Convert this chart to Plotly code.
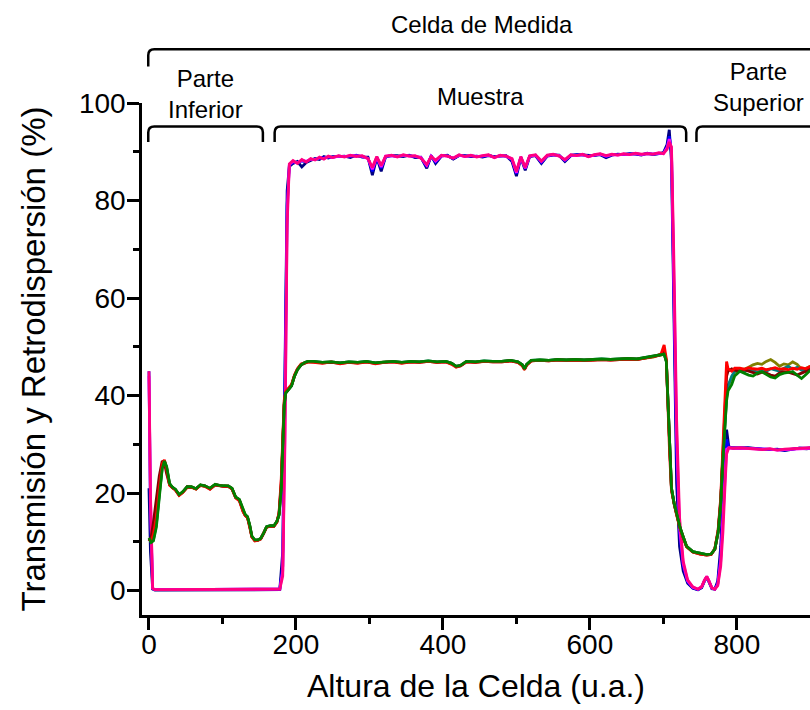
import plotly.graph_objects as go

# ---------------- data ----------------
T_X = [0, 2, 5, 8, 20, 60, 100, 140, 178, 182, 185, 188, 191,
       196, 202, 208, 214, 220, 226, 232, 238, 244, 250,
       258, 266, 274, 282, 290, 298,
       304, 310, 316, 322,
       330, 338, 346, 354, 362, 370, 378,
       384, 390,
       398, 406, 414, 422, 430, 438, 446, 454, 462, 470, 478, 486, 494,
       500, 506, 512, 518,
       526, 534, 542, 550, 558, 566, 574, 582, 590, 598, 606, 614, 622, 630, 638, 646, 654, 662, 670, 678, 686, 694,
       700, 705, 708,
       711, 714, 718, 722, 727, 733, 740, 747, 752, 756, 759, 762, 766, 770, 774, 778, 781, 784, 786, 789,
       795, 805, 815, 825, 835, 845, 855, 865, 875, 885, 895, 900]

T_NAVY = [21, 8, 0.3, 0.1, 0.1, 0.1, 0.1, 0.1, 0.2, 8, 45, 82, 87.0,
          87.6, 88.0, 86.9, 87.8, 88.2, 88.6, 88.4, 89.0, 88.7, 89.0,
          89.0, 89.1, 88.8, 89.3, 88.9, 88.9,
          85.2, 88.8, 86.0, 89.0,
          89.2, 89.2, 89.0, 89.3, 88.8, 88.9, 86.6,
          89.2, 87.6,
          89.1, 89.3, 88.5, 89.2, 89.2, 89.0, 89.1, 88.9, 89.2, 89.0, 89.1, 89.2, 88.0,
          85.0, 88.8, 86.2, 89.0,
          89.2, 87.6, 89.1, 89.3, 89.3, 88.0, 89.2, 89.4, 89.3, 89.2, 89.2, 89.4, 88.8, 89.3, 89.5, 89.4, 89.6, 89.5, 89.3, 89.7, 89.4, 89.6,
          89.8, 91.5, 94.5,
          88, 55, 22, 9, 4, 1.5, 0.5, 0.2, 0.6, 2.0, 2.8, 1.8, 0.4, 0.3, 2.0, 9, 20, 30, 33, 29.5,
          29.3, 29.2, 29.3, 29.1, 29.0, 28.9, 29.0, 28.7, 29.0, 29.2, 29.1, 29.2]

T_BLUE = [45, 16, 0.4, 0.2, 0.2, 0.2, 0.2, 0.2, 0.3, 5, 38, 79, 87.2,
          87.9, 87.8, 88.1, 88.0, 88.4, 88.5, 88.7, 88.8, 88.9, 88.9,
          89.1, 89.0, 89.1, 89.2, 89.0, 88.7,
          86.0, 88.9, 86.6, 89.0,
          89.2, 89.0, 89.2, 89.2, 89.0, 88.8, 87.0,
          89.1, 87.9,
          89.2, 89.2, 88.6, 89.3, 89.1, 89.2, 89.0, 89.0, 89.3, 88.9, 89.2, 89.1, 88.3,
          85.5, 88.9, 86.5, 89.1,
          89.3, 87.8, 89.2, 89.4, 89.2, 88.2, 89.3, 89.3, 89.4, 89.1, 89.3, 89.5, 89.0, 89.4, 89.4, 89.5, 89.5, 89.6, 89.4, 89.6, 89.5, 89.7,
          89.7, 91.0, 93.2,
          90, 62, 28, 12, 5, 1.8, 0.6, 0.2, 0.7, 2.1, 2.8, 1.9, 0.5, 0.3, 1.5, 7, 16, 26, 31, 29.4,
          29.2, 29.3, 29.2, 29.1, 29.0, 29.0, 28.9, 28.8, 29.0, 29.2, 29.2, 29.3]

T_MAGENTA = [44, 19, 0.5, 0.2, 0.2, 0.2, 0.2, 0.2, 0.3, 4, 33, 77, 87.4,
             88.0, 87.7, 88.3, 88.0, 88.5, 88.4, 88.8, 88.6, 89.0, 88.8,
             89.1, 89.0, 89.2, 89.1, 89.1, 88.6,
             86.4, 88.9, 86.9, 89.1,
             89.2, 89.0, 89.3, 89.1, 89.1, 88.8, 87.2,
             89.1, 88.1,
             89.2, 89.1, 88.7, 89.3, 89.0, 89.2, 89.0, 89.1, 89.3, 88.8, 89.2, 89.1, 88.5,
             85.7, 88.9, 86.6, 89.1,
             89.3, 88.0, 89.2, 89.4, 89.2, 88.3, 89.3, 89.2, 89.4, 89.0, 89.3, 89.5, 89.1, 89.4, 89.3, 89.5, 89.4, 89.6, 89.4, 89.6, 89.5, 89.7,
             89.6, 90.8, 92.6,
             90.5, 66, 32, 13, 5.5, 2.0, 0.7, 0.3, 0.8, 2.1, 2.9, 2.0, 0.5, 0.3, 1.2, 6, 14, 24, 29, 29.3,
             29.2, 29.2, 29.1, 29.1, 29.0, 29.0, 28.8, 28.9, 29.0, 29.1, 29.2, 29.2]

T_PINK = [45, 20, 0.5, 0.2, 0.2, 0.2, 0.2, 0.2, 0.3, 3, 30, 75, 87.5,
          88.2, 87.6, 88.4, 87.9, 88.6, 88.3, 88.9, 88.5, 89.1, 88.8,
          89.2, 88.9, 89.3, 89.0, 89.2, 88.6,
          86.8, 89.0, 87.2, 89.1,
          89.3, 88.9, 89.4, 89.1, 89.2, 88.7, 87.4,
          89.0, 88.3,
          89.3, 89.1, 88.7, 89.4, 89.0, 89.3, 88.9, 89.2, 89.4, 88.8, 89.3, 89.1, 88.6,
          86.0, 89.0, 86.8, 89.2,
          89.4, 88.1, 89.3, 89.5, 89.1, 88.4, 89.4, 89.2, 89.5, 89.0, 89.4, 89.6, 89.2, 89.5, 89.3, 89.6, 89.4, 89.7, 89.5, 89.6, 89.5, 89.8,
          89.6, 90.5, 92.0,
          91.0, 70, 35, 15, 6, 2.2, 0.8, 0.3, 0.8, 2.2, 2.9, 2.0, 0.6, 0.3, 1.0, 5, 12, 22, 28, 29.3,
          29.2, 29.3, 29.2, 29.0, 28.9, 29.1, 28.8, 29.0, 29.1, 29.2, 29.2, 29.3]

B_X = [0, 3, 6, 10, 14, 18, 21, 24, 28, 32, 36, 41, 46, 52, 58, 64, 70, 76, 83, 90,
       96, 102, 108, 113, 118, 123, 128, 131, 134, 137, 140, 144, 148, 152, 156, 160, 165, 170, 174, 177,
       180, 182, 184, 186, 190, 194, 198, 202, 207, 212, 216,
       224, 236, 248, 260, 272, 284, 296, 308, 320, 332, 344, 356, 368, 380, 392, 404,
       412, 418, 424,
       432, 444, 456, 468, 480, 492,
       502, 508, 511, 514, 520,
       532, 544, 556, 568, 580, 592, 604, 616, 628, 640, 652, 664, 676,
       686, 692, 697,
       701, 704, 706, 708.5, 711, 714.5, 718, 722.5, 727, 731.5,
       740, 750, 759, 765, 770, 774.5, 778, 780.5, 783, 785,
       786, 788, 793, 797, 804,
       810, 816, 822, 828, 834, 840, 846, 852, 858, 864, 870, 876, 882, 888, 894, 900]

B_OLIVE = [10.6, 10.0, 10.6, 13.8, 20.0, 25.5, 26.6, 25.2, 21.8, 21.1, 20.7, 19.6, 20.2, 21.2, 21.2, 20.8, 21.6, 21.4, 20.9, 21.7,
           21.5, 21.4, 21.4, 20.9, 19.1, 18.6, 16.4, 15.5, 15.1, 13.4, 11.1, 10.3, 10.4, 10.6, 11.8, 13.0, 13.2, 13.3, 14.1, 15.6,
           21.5, 30.5, 38.2, 40.5, 41.3, 42.1, 44.0, 45.3, 46.3, 46.7, 46.9,
           46.9, 46.8, 46.9, 46.7, 46.9, 46.8, 46.9, 46.7, 46.9, 47.0, 46.8, 46.9, 46.9, 47.0, 46.9, 47.0,
           46.6, 46.0, 46.2,
           47.0, 46.9, 47.0, 47.0, 47.0, 47.2,
           46.9, 46.3, 45.6, 46.4, 47.1,
           47.3, 47.2, 47.3, 47.3, 47.4, 47.3, 47.4, 47.4, 47.4, 47.5, 47.5, 47.5, 47.7,
           47.9, 48.2, 48.3,
           48.6, 47.0, 39.5, 29.5, 21.0, 17.9, 15.7, 13.0, 11.0, 9.1,
           8.0, 7.6, 7.4, 7.5, 8.5, 12.0, 18.0, 26.0, 33.0, 37.5,
           40.0, 42.0, 43.5, 44.8, 45.2,
           45.4, 45.8, 46.3, 46.6, 46.4, 47.0, 47.4, 46.8, 46.0, 46.5, 46.3, 46.9, 46.4, 45.4, 45.6, 46.0]

B_TEAL = [10.7, 10.0, 10.4, 13.5, 19.6, 25.2, 26.6, 25.3, 21.9, 21.1, 20.7, 19.6, 20.2, 21.3, 21.2, 20.9, 21.6, 21.5, 20.9, 21.7,
          21.6, 21.4, 21.4, 20.9, 19.1, 18.6, 16.4, 15.5, 15.1, 13.4, 11.1, 10.3, 10.4, 10.7, 11.8, 13.1, 13.3, 13.3, 14.1, 15.5,
          21.2, 30.2, 38.0, 40.5, 41.3, 42.0, 44.0, 45.3, 46.3, 46.8, 47.0,
          47.0, 46.8, 46.9, 46.7, 46.9, 46.8, 47.0, 46.7, 46.9, 47.0, 46.8, 47.0, 46.9, 47.1, 46.9, 47.0,
          46.6, 46.0, 46.2,
          47.0, 46.9, 47.1, 47.0, 47.0, 47.2,
          46.9, 46.3, 45.5, 46.4, 47.2,
          47.3, 47.2, 47.4, 47.3, 47.4, 47.3, 47.4, 47.5, 47.4, 47.5, 47.6, 47.5, 47.8,
          48.0, 48.3, 48.3,
          48.5, 47.0, 39.8, 29.8, 21.0, 18.0, 15.8, 13.0, 11.0, 9.1,
          8.0, 7.6, 7.4, 7.5, 8.5, 12.0, 18.0, 26.0, 33.0, 37.0,
          39.5, 42.0, 44.0, 45.0, 45.2,
          45.0, 45.3, 45.1, 44.8, 45.2, 45.0, 45.5, 45.2, 45.0, 45.6, 46.0, 45.4, 45.8, 45.2, 45.0, 45.5]

B_WINE = [10.2, 11.0, 14.0, 18.5, 23.5, 26.6, 26.2, 24.0, 21.7, 21.1, 20.7, 19.6, 20.2, 21.3, 21.2, 20.9, 21.6, 21.5, 20.9, 21.7,
          21.5, 21.4, 21.4, 20.9, 19.1, 18.5, 16.3, 15.4, 15.0, 13.3, 11.0, 10.3, 10.3, 10.6, 11.7, 13.0, 13.2, 13.2, 14.1, 15.8,
          22.0, 31.0, 38.5, 40.6, 41.3, 42.1, 44.1, 45.4, 46.4, 46.7, 46.9,
          46.9, 46.7, 46.8, 46.6, 46.8, 46.7, 46.9, 46.6, 46.8, 46.9, 46.7, 46.9, 46.8, 47.0, 46.8, 46.9,
          46.5, 45.9, 46.1,
          46.9, 46.8, 47.0, 46.9, 46.9, 47.1,
          46.8, 46.2, 45.4, 46.3, 47.1,
          47.2, 47.1, 47.3, 47.2, 47.3, 47.2, 47.3, 47.4, 47.3, 47.4, 47.5, 47.4, 47.7,
          47.9, 48.2, 48.4,
          49.2, 47.2, 39.0, 29.0, 20.8, 17.8, 15.6, 12.9, 10.9, 9.0,
          7.9, 7.5, 7.3, 7.4, 8.5, 12.2, 18.5, 27.0, 34.5, 40.0,
          44.0, 45.0, 45.5, 45.2, 45.0,
          45.3, 45.0, 44.7, 44.4, 44.8, 44.6, 44.2, 44.0, 44.6, 44.9, 44.8, 44.5, 44.2, 44.6, 45.0, 45.6]

B_RED = [10.5, 10.2, 11.5, 15.0, 21.0, 26.0, 26.8, 25.0, 21.6, 21.0, 20.6, 19.5, 20.1, 21.2, 21.2, 20.8, 21.6, 21.4, 20.8, 21.7,
         21.5, 21.4, 21.4, 20.8, 19.0, 18.4, 16.2, 15.4, 15.0, 13.2, 11.0, 10.2, 10.3, 10.6, 11.7, 13.0, 13.2, 13.2, 14.0, 16.0,
         23.0, 32.0, 39.0, 40.8, 41.5, 42.3, 44.2, 45.5, 46.5, 46.7, 46.9,
         46.8, 46.6, 46.9, 46.5, 46.8, 46.6, 46.9, 46.5, 46.8, 46.9, 46.6, 46.9, 46.8, 47.0, 46.8, 46.9,
         46.4, 45.8, 46.1,
         46.9, 46.8, 47.0, 46.9, 46.9, 47.1,
         46.8, 46.1, 45.3, 46.2, 47.1,
         47.2, 47.1, 47.3, 47.2, 47.3, 47.2, 47.3, 47.4, 47.3, 47.4, 47.5, 47.4, 47.7,
         47.9, 48.2, 48.6,
         50.4, 47.5, 38.0, 28.0, 20.5, 17.6, 15.5, 12.8, 10.8, 9.0,
         7.9, 7.5, 7.3, 7.4, 8.6, 12.5, 19.0, 28.0, 36.0, 43.0,
         47.0, 45.5, 45.0, 45.6, 45.6,
         45.4, 45.7, 45.5, 45.4, 45.6, 45.3, 45.5, 45.7, 45.4, 45.5, 45.3, 45.6, 45.4, 45.7, 45.5, 46.0]

B_GREEN = [10.8, 9.9, 10.2, 13.0, 19.0, 25.0, 26.6, 25.5, 22.0, 21.2, 20.8, 19.7, 20.3, 21.3, 21.3, 20.9, 21.7, 21.5, 21.0, 21.8,
           21.6, 21.5, 21.5, 21.0, 19.2, 18.7, 16.5, 15.6, 15.2, 13.5, 11.2, 10.4, 10.4, 10.7, 11.8, 13.1, 13.3, 13.3, 14.2, 15.5,
           21.0, 30.0, 38.0, 40.5, 41.3, 42.0, 44.0, 45.3, 46.3, 46.8, 47.0,
           47.0, 46.8, 46.9, 46.7, 46.9, 46.8, 47.0, 46.7, 46.9, 47.0, 46.8, 47.0, 46.9, 47.1, 46.9, 47.0,
           46.6, 46.0, 46.2,
           47.0, 46.9, 47.1, 47.0, 47.0, 47.2,
           46.9, 46.3, 45.5, 46.4, 47.2,
           47.3, 47.2, 47.4, 47.3, 47.4, 47.3, 47.4, 47.5, 47.4, 47.5, 47.6, 47.5, 47.8,
           48.0, 48.3, 48.3,
           48.5, 47.0, 40.0, 30.0, 21.0, 18.0, 15.8, 13.0, 11.0, 9.1,
           8.0, 7.6, 7.4, 7.5, 8.5, 12.0, 18.0, 26.0, 33.0, 37.0,
           39.0, 41.0, 42.3, 44.0, 45.0,
           44.6, 44.2, 44.0, 44.6, 44.9, 44.3, 43.8, 43.6, 44.3, 44.6, 44.7, 44.9, 44.2, 43.5, 44.3, 45.2]

X_TICKS = [0, 200, 400, 600, 800]
X_MINOR = [100, 300, 500, 700]
Y_TICKS = [0, 20, 40, 60, 80, 100]
Y_MINOR = [10, 30, 50, 70, 90]
X_RANGE = [-9.5, 899.5]
Y_RANGE = [-5, 100]

# section brackets (data-x extents) and labels
SECTIONS = [("Parte<br>Inferior", -1, 155, True), ("Muestra", 171, 731, True), ("Parte<br>Superior", 745, 930, False)]
CELL = ("Celda de Medida", -1, 930)

# ---------------- figure ----------------
fig = go.Figure()

trans = [(T_NAVY, "#000080"), (T_BLUE, "#0000FF"), (T_MAGENTA, "#FF00FF"), (T_PINK, "#FF0080")]
for ys, c in trans:
    fig.add_trace(go.Scatter(x=T_X, y=ys, mode="lines", line=dict(color=c, width=2.8), hoverinfo="skip"))

back = [(B_OLIVE, "#808000"), (B_TEAL, "#008080"), (B_WINE, "#800000"), (B_RED, "#FF0000"), (B_GREEN, "#008000")]
for ys, c in back:
    fig.add_trace(go.Scatter(x=B_X, y=ys, mode="lines", line=dict(color=c, width=2.8), hoverinfo="skip"))


def px_(x):
    return (x - X_RANGE[0]) / (X_RANGE[1] - X_RANGE[0])


def py_(y):
    return (y - Y_RANGE[0]) / (Y_RANGE[1] - Y_RANGE[0])


PW, PH = 668.0, 512.0
rx, ry = 6 / PW, 6 / PH


def bracket(x0, x1, ytop, ybot, close_right):
    a, b = px_(x0), px_(x1)
    t, u = py_(ytop), py_(ybot)
    p = f"M {a},{u} L {a},{t-ry} Q {a},{t} {a+rx},{t} "
    if close_right:
        p += f"L {b-rx},{t} Q {b},{t} {b},{t-ry} L {b},{u}"
    else:
        p += f"L {b},{t}"
    return p


shapes = []
BR_TOP, BR_BOT = 95.2, 92.0
for label, x0, x1, cl in SECTIONS:
    shapes.append(dict(type="path", xref="paper", yref="paper", path=bracket(x0, x1, BR_TOP, BR_BOT, cl),
                       line=dict(color="black", width=2.5), layer="above"))
shapes.append(dict(type="path", xref="paper", yref="paper", path=bracket(CELL[1], CELL[2], 111.0, 107.5, False),
                   line=dict(color="black", width=2.5), layer="above"))

annots = []
ann_y = {"Parte<br>Inferior": 101.9, "Muestra": 101.3, "Parte<br>Superior": 103.3}
for label, x0, x1, cl in SECTIONS:
    xc = (x0 + x1) / 2 if cl else 830
    annots.append(dict(text=label, x=xc, xref="x", y=py_(ann_y[label]), yref="paper",
                       showarrow=False, font=dict(size=24, color="black"), xanchor="center", yanchor="middle"))
annots.append(dict(text=CELL[0], x=453, xref="x", y=py_(116.0), yref="paper", showarrow=False,
                   font=dict(size=24, color="black"), xanchor="center", yanchor="middle"))

axis_common = dict(showline=True, linewidth=2.5, linecolor="black", ticks="outside", ticklen=12, tickwidth=2.5,
                   tickcolor="black", showgrid=False, zeroline=False, tickfont=dict(size=28, color="black"))

fig.update_layout(
    width=810, height=710,
    margin=dict(l=142, r=0, t=103, b=95),
    plot_bgcolor="white", paper_bgcolor="white",
    showlegend=False,
    font=dict(family="Liberation Sans, Arial, sans-serif", color="black"),
    shapes=shapes, annotations=annots,
    xaxis=dict(range=X_RANGE, tickvals=X_TICKS, **axis_common, ticklabelstandoff=-9,
               minor=dict(tickvals=X_MINOR, ticks="outside", ticklen=6, tickwidth=2.5, tickcolor="black"),
               title=dict(text="Altura de la Celda (u.a.)", font=dict(size=32, color="black"), standoff=16)),
    yaxis=dict(range=Y_RANGE, tickvals=Y_TICKS, **axis_common, ticklabelstandoff=-4,
               minor=dict(tickvals=Y_MINOR, ticks="outside", ticklen=6, tickwidth=2.5, tickcolor="black"),
               title=dict(text="Transmisión y Retrodispersión (%)", font=dict(size=33, color="black"), standoff=24)),
)

fig.write_html("out.html")
